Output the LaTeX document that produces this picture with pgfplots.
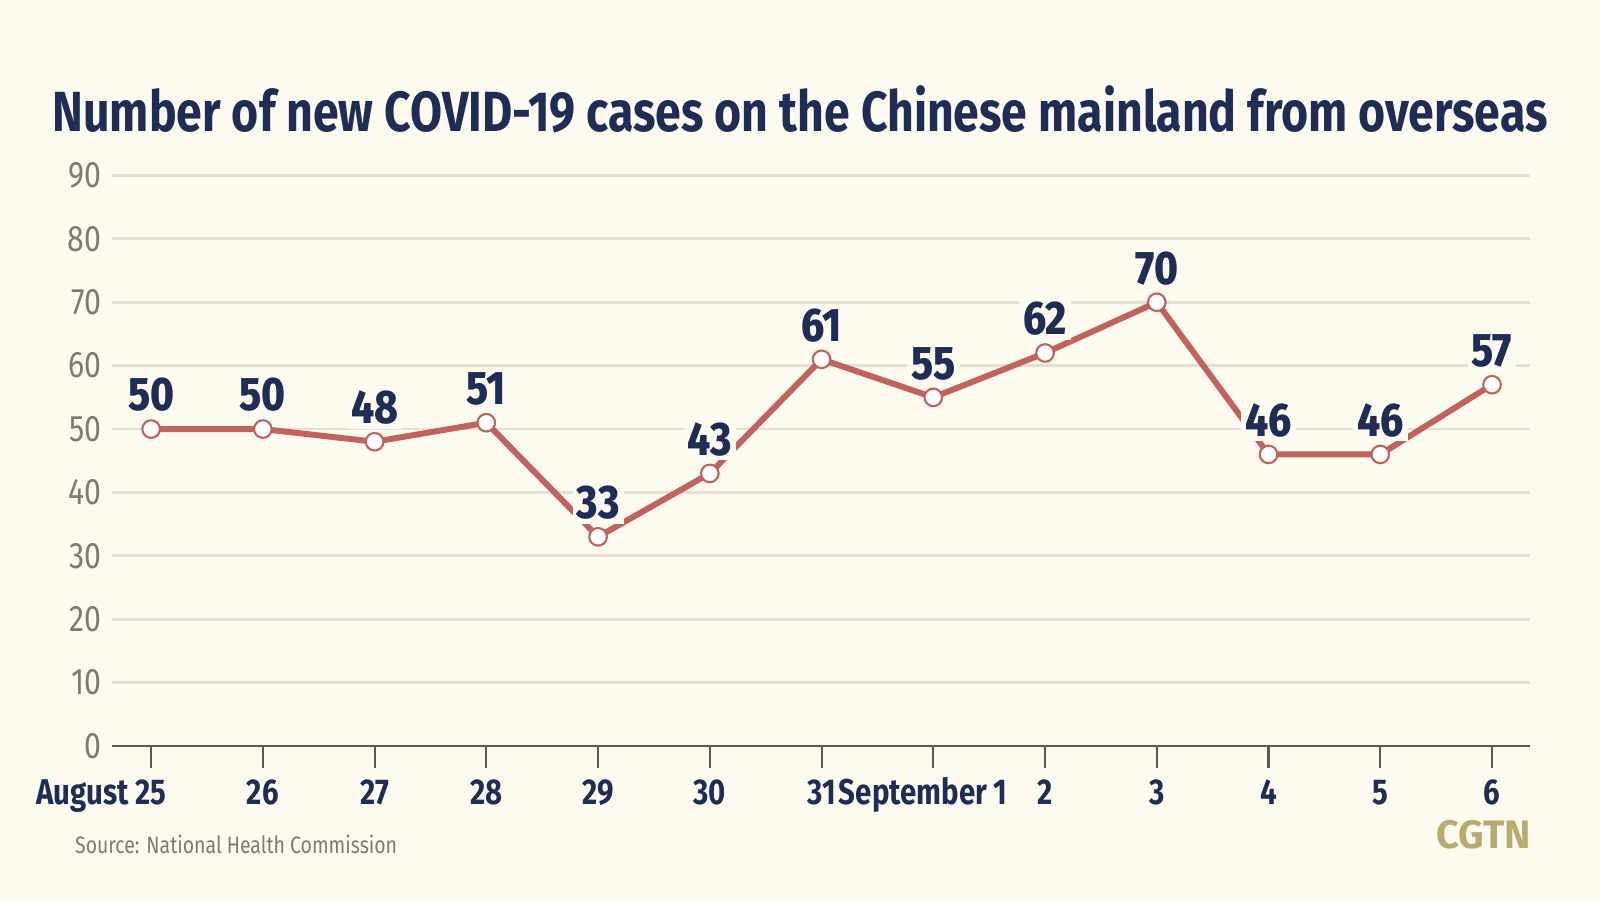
\documentclass[border=0pt]{standalone}
\usepackage{fontspec}
\usepackage{pgfplots}
\pgfplotsset{compat=1.18}
\setmainfont{Fira Sans}
\newfontfamily\din{Fira Sans}[FakeStretch=0.82]
\newfontfamily\heavy{Fira Sans ExtraBold}[FakeStretch=0.86]
\definecolor{bgc}{HTML}{FDFBF0}
\definecolor{navy}{HTML}{1F2C56}
\definecolor{linec}{HTML}{C2625C}
\definecolor{tickc}{HTML}{7C7B74}
\definecolor{gridc}{HTML}{E3E0D3}
\definecolor{axc}{HTML}{5A5A55}
\definecolor{cgtn}{HTML}{B7AC6C}
\begin{document}
\begin{tikzpicture}[x=1cm,y=1cm]
\fill[bgc] (0,0) rectangle (16,9);
\begin{axis}[
  at={(1.12cm,1.54cm)}, anchor=south west,
  scale only axis, width=14.18cm, height=5.705cm,
  xmin=-0.35, xmax=12.34, ymin=0, ymax=90,
  clip=false,
  axis lines=left, axis line style={-},
  y axis line style={draw=none},
  x axis line style={draw=axc, line width=0.7pt},
  ytick={0,10,...,90},
  xtick={0,...,12},
  xticklabels={\llap{August\ }25,26,27,28,29,30,31,\hspace*{-0.2cm}September 1,2,3,4,5,6},
  ymajorgrids, major grid style={gridc, line width=0.8pt},
  ytick style={draw=none},
  xtick style={draw=axc, line width=0.6pt},
  tick align=outside, major tick length=0.22cm,
  /pgf/number format/assume math mode=true,
  yticklabel style={font=\din\fontsize{10.5}{11}\selectfont, text=tickc, anchor=east, inner sep=0pt, xshift=0.12cm},
  xticklabel style={font=\din\bfseries\fontsize{10.2}{11}\selectfont, text=navy, anchor=base, inner sep=0pt, yshift=-0.36cm},
]
\addplot[color=linec, line width=1.7pt, mark=*, mark size=2.5pt,
  mark options={fill=white, draw=linec, line width=0.6pt},
  nodes near coords,
  every node near coord/.append style={font=\heavy\fontsize{13.4}{14}\selectfont, text=navy, fill=bgc, inner sep=1.2pt, anchor=south, yshift=0.12cm}]
  coordinates {(0,50) (1,50) (2,48) (3,51) (4,33) (5,43) (6,61) (7,55) (8,62) (9,70) (10,46) (11,46) (12,57)};
\end{axis}
\node[font=\din\bfseries\fontsize{16.1}{17}\selectfont, text=navy] at (8,7.91) {Number of new COVID-19 cases on the Chinese mainland from overseas};
\node[anchor=west, font=\din\fontsize{6.75}{7}\selectfont, text=tickc, inner sep=0pt] at (0.745,0.56) {Source: National Health Commission};
\node[anchor=east, font=\bfseries\fontsize{11.3}{12}\selectfont, text=cgtn, inner sep=0pt] at (15.32,0.65) {CGTN};
\pgfresetboundingbox
\path[use as bounding box] (0,0) rectangle (16,9);
\end{tikzpicture}
\end{document}
